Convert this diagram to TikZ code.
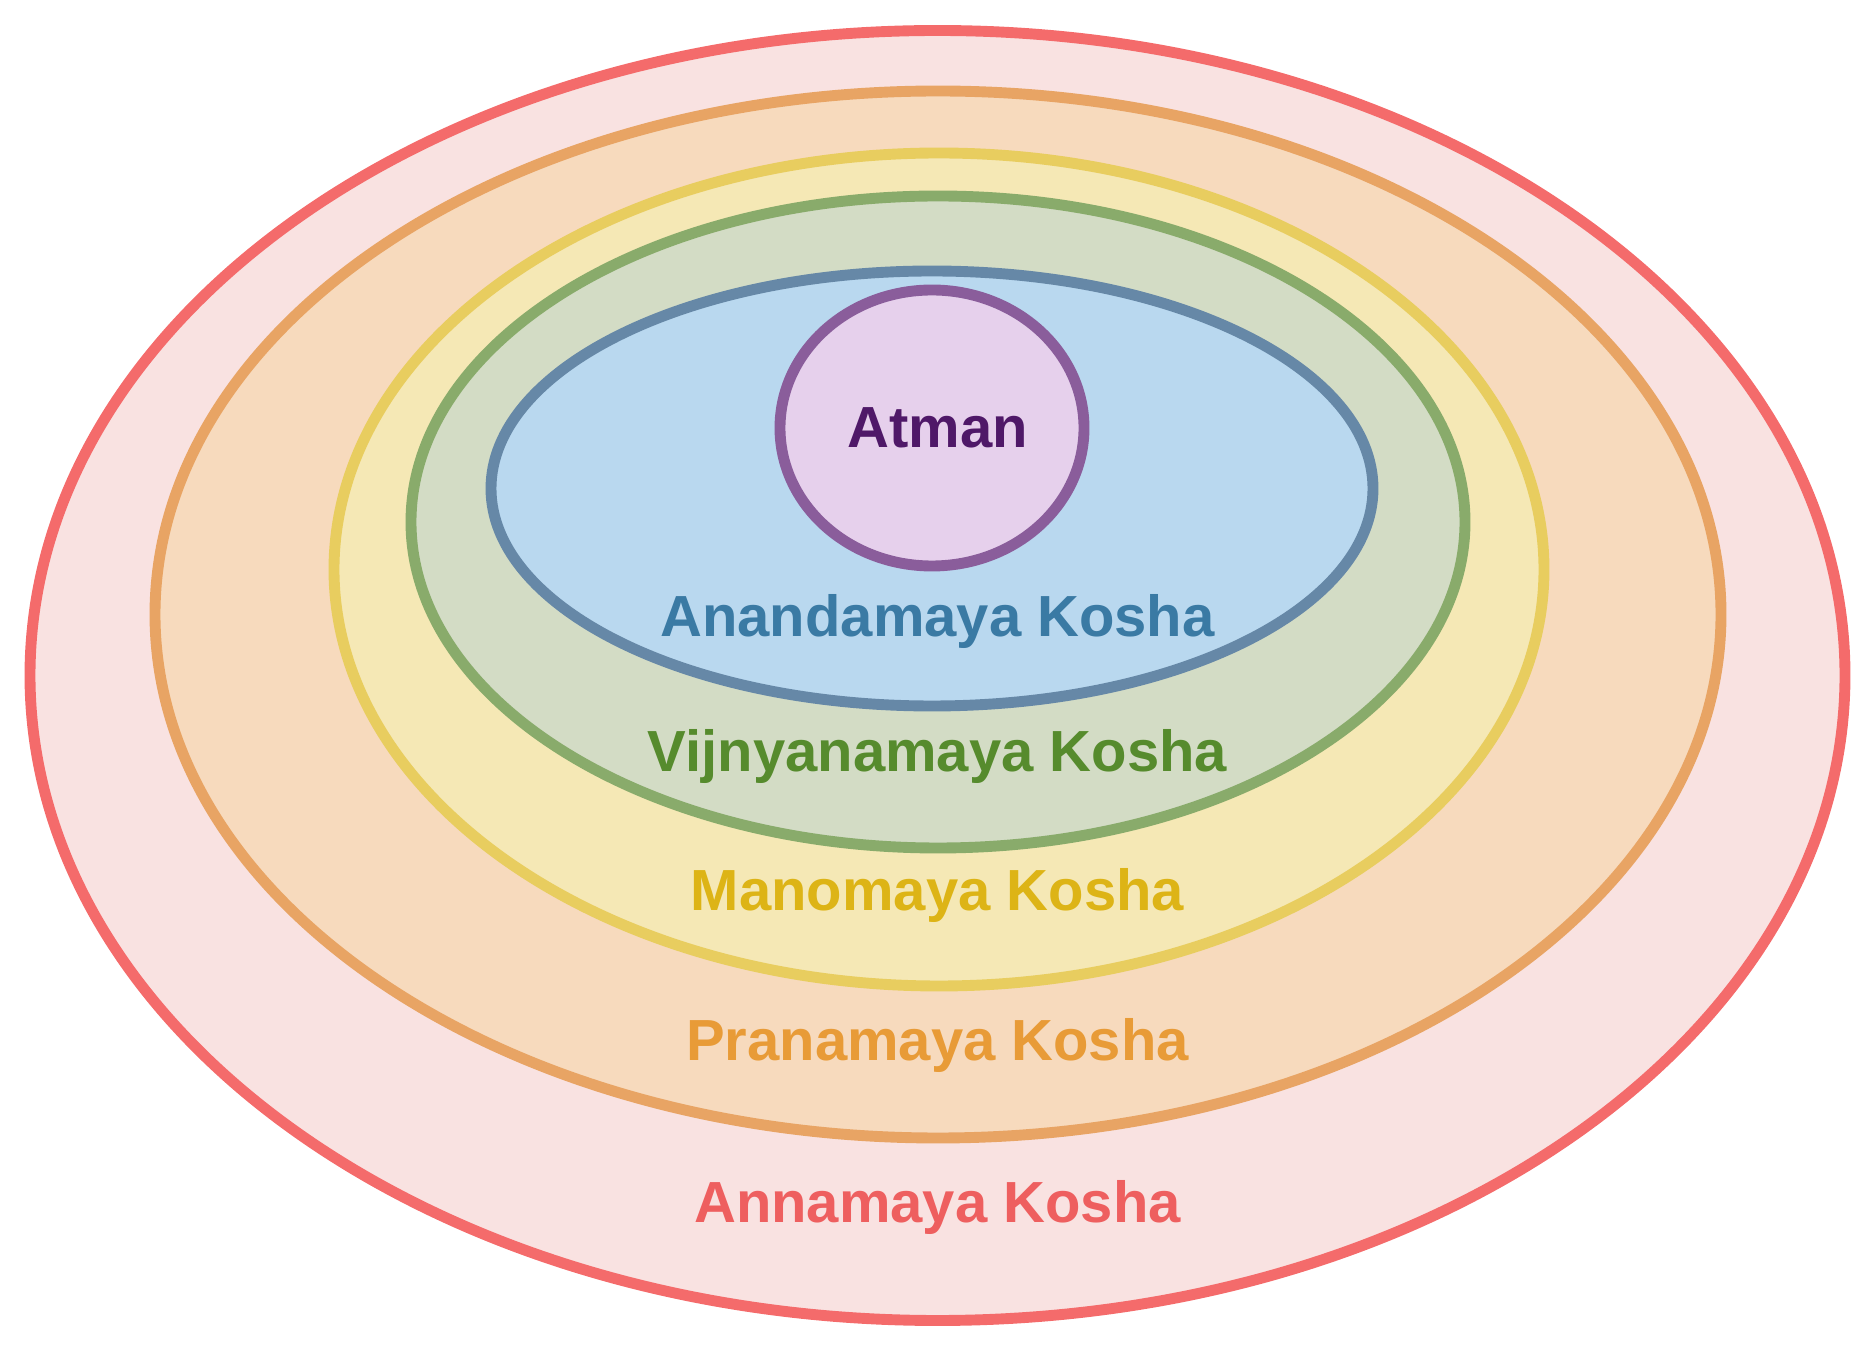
\documentclass[tikz,border=0pt]{standalone}
\usepackage{fontspec}
\setmainfont{Liberation Sans}
\usetikzlibrary{shapes.geometric, positioning}
\definecolor{ksRed}{HTML}{F46B6B}
\definecolor{ksRedBg}{HTML}{F9E2E1}
\definecolor{ksRedText}{HTML}{EE5F5F}
\definecolor{ksOrange}{HTML}{E8A464}
\definecolor{ksOrangeBg}{HTML}{F7DABD}
\definecolor{ksOrangeText}{HTML}{E89B37}
\definecolor{ksYellow}{HTML}{E8CD5F}
\definecolor{ksYellowBg}{HTML}{F5E8B5}
\definecolor{ksYellowText}{HTML}{DDB416}
\definecolor{ksGreen}{HTML}{89AB6B}
\definecolor{ksGreenBg}{HTML}{D3DCC5}
\definecolor{ksGreenText}{HTML}{568B2D}
\definecolor{ksBlue}{HTML}{6688A7}
\definecolor{ksBlueBg}{HTML}{B9D8EF}
\definecolor{ksBlueText}{HTML}{3A7AA4}
\definecolor{ksPurple}{HTML}{8A5D9B}
\definecolor{ksPurpleBg}{HTML}{E6D0EC}
\definecolor{ksPurpleText}{HTML}{4F1868}
\tikzset{
  kosha/.style={ellipse, line width=3.1pt, inner sep=0pt, outer sep=0pt},
  koshaLabel/.style={anchor=base, inner sep=0pt,
    font=\fontsize{16.5}{20}\selectfont\bfseries}
}

\begin{document}
\begin{tikzpicture}
  \useasboundingbox (0,0) rectangle (18.67,-13.55);
  % sheaths, outer to inner
  \node[kosha, draw=ksRed, fill=ksRedBg, minimum width=18.15cm, minimum height=12.90cm] (anna) at (9.375,-6.755) {};
  \node[kosha, draw=ksOrange, fill=ksOrangeBg, minimum width=15.66cm, minimum height=10.47cm] (prana) at (9.38,-6.145) {};
  \node[kosha, draw=ksYellow, fill=ksYellowBg, minimum width=12.10cm, minimum height=8.33cm] (mano) at (9.39,-5.695) {};
  \node[kosha, draw=ksGreen, fill=ksGreenBg, minimum width=10.54cm, minimum height=6.52cm] (vijnyana) at (9.38,-5.22) {};
  \node[kosha, draw=ksBlue, fill=ksBlueBg, minimum width=8.82cm, minimum height=4.35cm] (ananda) at (9.32,-4.885) {};
  \node[kosha, draw=ksPurple, fill=ksPurpleBg, minimum width=3.04cm, minimum height=2.76cm] (atman) at (9.32,-4.28) {};
  % labels
  \node[koshaLabel, text=ksPurpleText] (atmanText) at (9.375,-4.48) {Atman};
  \node[koshaLabel, text=ksBlueText] (anandaText) at (9.375,-6.37) {Anandamaya Kosha};
  \node[koshaLabel, text=ksGreenText] (vijnyanaText) at (9.375,-7.72) {Vijnyanamaya Kosha};
  \node[koshaLabel, text=ksYellowText] (manoText) at (9.375,-9.11) {Manomaya Kosha};
  \node[koshaLabel, text=ksOrangeText] (pranaText) at (9.375,-10.61) {Pranamaya Kosha};
  \node[koshaLabel, text=ksRedText] (annaText) at (9.375,-12.23) {Annamaya Kosha};
\end{tikzpicture}
\end{document}
